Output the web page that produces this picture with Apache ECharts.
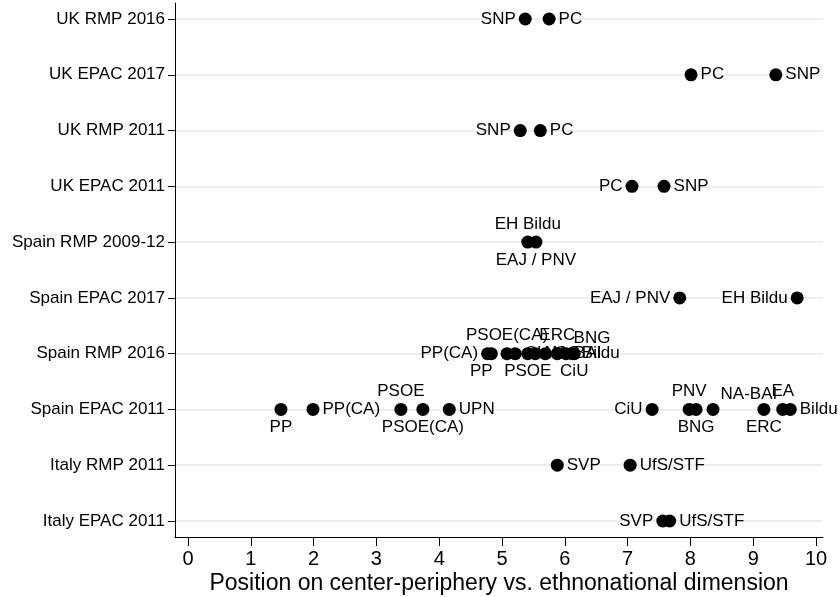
<!DOCTYPE html>
<html>
<head>
<meta charset="utf-8">
<script src="https://cdn.jsdelivr.net/npm/echarts@6/dist/echarts.min.js"></script>
<style>
  html, body { margin: 0; padding: 0; background: #fff; }
  #chart { width: 840px; height: 597px; }
</style>
</head>
<body>
<div id="chart"></div>
<script>
// rows of the chart, top to bottom
var rowNames = ['UK RMP 2016', 'UK EPAC 2017', 'UK RMP 2011', 'UK EPAC 2011', 'Spain RMP 2009-12',
                'Spain EPAC 2017', 'Spain RMP 2016', 'Spain EPAC 2011', 'Italy RMP 2011', 'Italy EPAC 2011'];
var rowTicks = [0, 1, 2, 3, 4, 5, 6, 7, 8, 9];
var xTicks = [0, 1, 2, 3, 4, 5, 6, 7, 8, 9, 10];

// one entry per party marker
var partyNames = [
  'SNP', 'PC',
  'PC', 'SNP',
  'SNP', 'PC',
  'PC', 'SNP',
  'EH Bildu', 'EAJ / PNV',
  'EAJ / PNV', 'EH Bildu',
  'PP(CA)', 'PP', 'PSOE(CA)', 'CHA', 'PSOE', 'NA-BAI', 'CC', 'ERC', 'BNG', 'CiU', 'Bildu',
  'PP', 'PP(CA)', 'PSOE', 'PSOE(CA)', 'UPN', 'CiU', 'PNV', 'BNG', 'NA-BAI', 'ERC', 'EA', 'Bildu',
  'SVP', 'UfS/STF',
  'SVP', 'UfS/STF'
];
var partyRow = [
  0, 0,
  1, 1,
  2, 2,
  3, 3,
  4, 4,
  5, 5,
  6, 6, 6, 6, 6, 6, 6, 6, 6, 6, 6,
  7, 7, 7, 7, 7, 7, 7, 7, 7, 7, 7, 7,
  8, 8,
  9, 9
];
var partyScore = [
  5.37, 5.75,
  8.01, 9.36,
  5.29, 5.61,
  7.07, 7.58,
  5.41, 5.54,
  7.83, 9.70,
  4.77, 4.83, 5.08, 5.21, 5.41, 5.53, 5.69, 5.88, 6.02, 6.15, 6.12,
  1.48, 1.99, 3.39, 3.74, 4.16, 7.39, 7.98, 8.09, 8.36, 9.17, 9.47, 9.59,
  5.88, 7.04,
  7.56, 7.67
];

// where each marker's label sits (styling only)
var labelSide = [
  'l', 'r',
  'r', 'r',
  'l', 'r',
  'l', 'r',
  't', 'b',
  'l', 'l',
  'l', 'bl', 't', 'r', 'b', 'r', 'r', 't', 'tr', 'b', 'r',
  'b', 'r', 't', 'b', 'r', 'l', 't', 'b', 'tr', 'b', 't', 'r',
  'r', 'r',
  'l', 'r'
];
var sideStyle = {
  l: { position: 'left' },
  r: { position: 'right' },
  t: { position: 'top' },
  b: { position: 'bottom' },
  bl: { position: 'bottom', offset: [-10, 0] },
  tr: { position: 'right', offset: [-2, -15] }
};

var points = partyNames.map(function (n, i) {
  return {
    name: n,
    value: [partyScore[i], partyRow[i]],
    label: sideStyle[labelSide[i]]
  };
});

var chart = echarts.init(document.getElementById('chart'));
var font = 'Liberation Sans, Arial, Helvetica, sans-serif';
var option = {
  animation: false,
  grid: { left: 175, right: 17, top: 3, bottom: 60, outerBoundsMode: 'none' },
  xAxis: {
    type: 'value',
    min: -0.207,
    max: 10.111,
    name: 'Position on center-periphery vs. ethnonational dimension',
    nameLocation: 'middle',
    nameMoveOverlap: false,
    nameGap: 35,
    nameTextStyle: { color: '#000', fontSize: 23, fontFamily: font },
    axisLine: { show: true, onZero: false, lineStyle: { color: '#000', width: 1 } },
    axisTick: { show: true, length: 9, customValues: xTicks, lineStyle: { color: '#000' } },
    axisLabel: { customValues: xTicks, color: '#000', fontSize: 20, fontFamily: font, margin: 12 },
    splitLine: { show: false }
  },
  yAxis: {
    type: 'value',
    inverse: true,
    min: -0.287,
    max: 9.287,
    axisLine: { show: true, onZero: false, lineStyle: { color: '#000', width: 1 } },
    axisTick: { show: true, length: 7, customValues: rowTicks, lineStyle: { color: '#000' } },
    axisLabel: {
      customValues: rowTicks,
      formatter: function (v) { return rowNames[Math.round(v)]; },
      color: '#000', fontSize: 17, fontFamily: font, margin: 10
    },
    splitLine: { show: true, lineStyle: { color: '#e9e9e9', width: 1.5 } }
  },
  series: [{
    type: 'scatter',
    symbol: 'circle',
    symbolSize: 13,
    itemStyle: { color: '#000', opacity: 1 },
    label: {
      show: true,
      formatter: '{b}',
      color: '#000',
      fontSize: 17,
      fontFamily: font,
      distance: 3
    },
    data: points
  }]
};
chart.setOption(option);
</script>
</body>
</html>
